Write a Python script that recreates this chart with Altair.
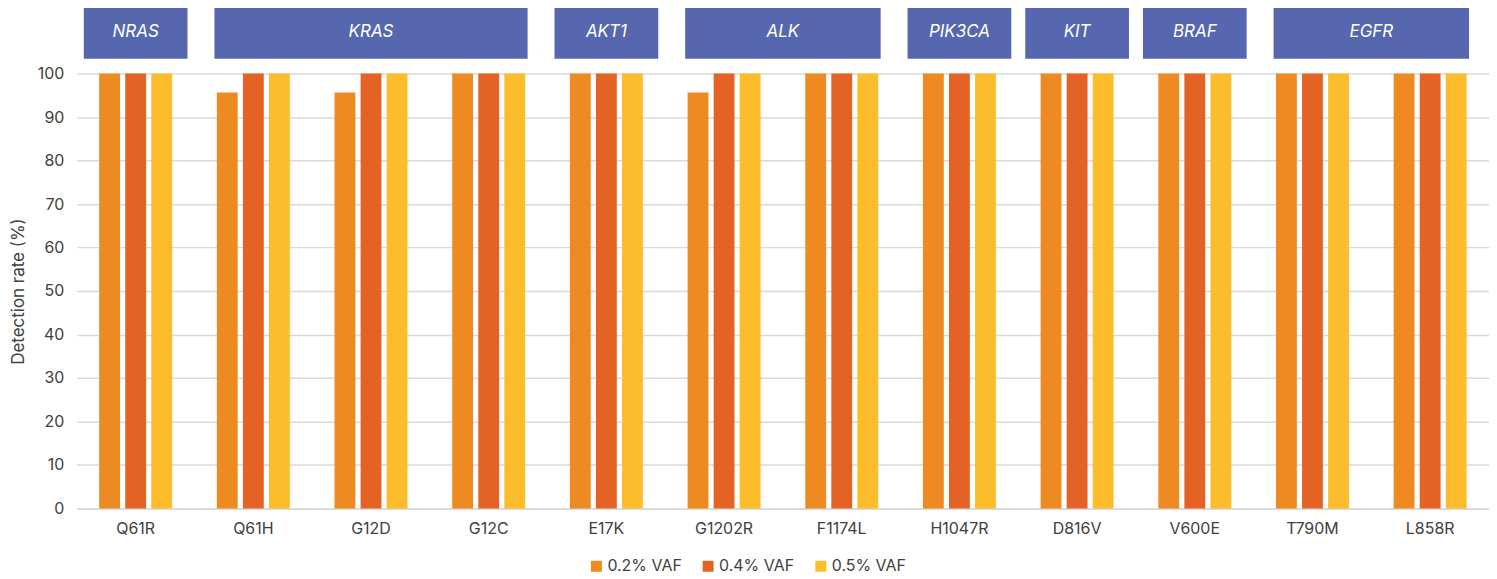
import altair as alt
import pandas as pd

categories = ["Q61R", "Q61H", "G12D", "G12C", "E17K", "G1202R", "F1174L",
              "H1047R", "D816V", "V600E", "T790M", "L858R"]
series = ["0.2% VAF", "0.4% VAF", "0.5% VAF"]
vaf_02 = [100, 95.65, 95.65, 100, 100, 95.65, 100, 100, 100, 100, 100, 100]
vaf_04 = [100, 100, 100, 100, 100, 100, 100, 100, 100, 100, 100, 100]
vaf_05 = [100, 100, 100, 100, 100, 100, 100, 100, 100, 100, 100, 100]
colors = ["#EE8A22", "#E56225", "#FDBC2B"]

genes = ["NRAS", "KRAS", "AKT1", "ALK", "PIK3CA", "KIT", "BRAF", "EGFR"]
gene_first = ["Q61R", "Q61H", "E17K", "G1202R", "H1047R", "D816V", "V600E", "T790M"]
gene_last = ["Q61R", "G12C", "E17K", "F1174L", "H1047R", "D816V", "V600E", "L858R"]

FONT = "Inter"
TXT = "#404040"

rows = []
for s, vals in zip(series, [vaf_02, vaf_04, vaf_05]):
    for c, v in zip(categories, vals):
        rows.append({"mutation": c, "vaf": s, "rate": v})
bars_df = pd.DataFrame(rows)

hdr = pd.DataFrame({
    "gene": genes,
    "start": [categories.index(f) for f in gene_first],
    "end": [categories.index(l) + 1 for l in gene_last],
})
hdr["mid"] = (hdr["start"] + hdr["end"]) / 2
hdr["span"] = hdr["end"] - hdr["start"]

n = len(categories)

bars = alt.Chart(bars_df).mark_bar().encode(
    x=alt.X("mutation:N", sort=categories,
            scale=alt.Scale(domain=categories, paddingInner=0.38, paddingOuter=0.19),
            axis=alt.Axis(title=None, labelAngle=0, labelFontSize=16, labelColor=TXT,
                          labelFont=FONT, labelPadding=12, ticks=False,
                          domain=True, domainColor="#D9D9D9", domainWidth=1.5)),
    xOffset=alt.XOffset("vaf:N", sort=series, scale=alt.Scale(paddingInner=0.2)),
    y=alt.Y("rate:Q", scale=alt.Scale(domain=[0, 100]),
            axis=alt.Axis(title="Detection rate (%)", values=list(range(0, 101, 10)),
                          labelFontSize=16, labelColor=TXT, labelFont=FONT,
                          labelPadding=13, ticks=False, domain=False,
                          grid=True, gridColor="#D9D9D9", gridWidth=1.5,
                          titleFont=FONT, titleFontSize=17, titleFontWeight="normal",
                          titleColor=TXT, titlePadding=10)),
    color=alt.Color("vaf:N", sort=series,
                    scale=alt.Scale(domain=series, range=colors),
                    legend=alt.Legend(title=None, orient="none", legendX=513, legendY=486,
                                      direction="horizontal", symbolType="square",
                                      symbolSize=121, symbolStrokeWidth=0,
                                      labelFontSize=16, labelFont=FONT, labelColor=TXT,
                                      labelOffset=3, columnPadding=18)),
)

xq = alt.Scale(domain=[0, n])
hdr_single = alt.Chart(hdr).transform_filter("datum.span == 1").mark_rect(
    color="#5767AF", xOffset=7, x2Offset=-7).encode(
    x=alt.X("start:Q", scale=xq, axis=None),
    x2="end:Q",
    y=alt.value(-66), y2=alt.value(-15),
)
hdr_multi = alt.Chart(hdr).transform_filter("datum.span > 1").mark_rect(
    color="#5767AF", xOffset=20, x2Offset=-20).encode(
    x=alt.X("start:Q", scale=xq, axis=None),
    x2="end:Q",
    y=alt.value(-66), y2=alt.value(-15),
)
hdr_text = alt.Chart(hdr).mark_text(
    color="white", font=FONT, fontSize=17, fontStyle="italic", baseline="middle").encode(
    x=alt.X("mid:Q", scale=xq, axis=None),
    y=alt.value(-42),
    text="gene:N",
)

chart = alt.layer(bars, hdr_single, hdr_multi, hdr_text).resolve_scale(
    x="independent"
).properties(
    width=1416, height=436,
    autosize=alt.AutoSizeParams(type="none"),
    padding={"left": 69, "top": 65, "right": 0, "bottom": 70},
).configure_view(stroke=None)

chart.save("out.html", embed_options={"renderer": "svg", "actions": False})
